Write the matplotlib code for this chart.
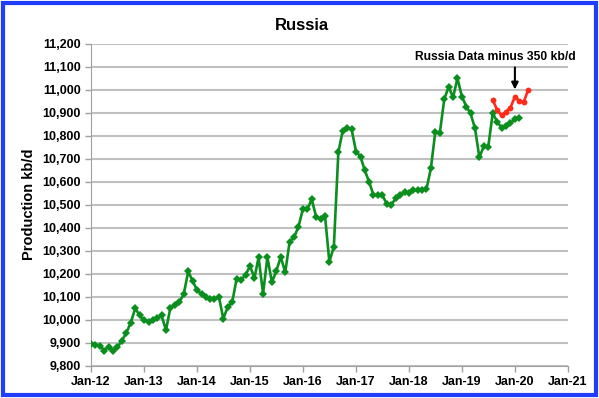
import matplotlib
matplotlib.use("Agg")
import matplotlib.pyplot as plt
import matplotlib.dates as mdates
import matplotlib.patches as mpatches
import pandas as pd

plt.rcParams['font.family'] = ['Liberation Sans', 'DejaVu Sans']

green_start = "2012-01-01"
green_values = [
    9892, 9890, 9886, 9865, 9882, 9865, 9880, 9908, 9943, 9986, 10049, 10018,
    9996, 9991, 9998, 10005, 10018, 9954, 10050, 10063, 10077, 10109, 10209, 10168,
    10128, 10110, 10100, 10087, 10087, 10097, 10004, 10055, 10077, 10178, 10172, 10194,
    10232, 10181, 10270, 10113, 10271, 10162, 10210, 10272, 10205, 10338, 10358, 10403,
    10481, 10480, 10523, 10447, 10437, 10452, 10250, 10317, 10727, 10821, 10831, 10828,
    10730, 10708, 10650, 10599, 10541, 10541, 10541, 10502, 10498, 10527, 10541, 10553,
    10549, 10561, 10562, 10563, 10566, 10658, 10814, 10809, 10957, 11012, 10966, 11049,
    10969, 10925, 10896, 10831, 10705, 10754, 10749, 10897, 10860, 10834, 10843, 10855,
    10870, 10878,
]
red_start = "2019-08-01"
red_values = [10954, 10911, 10887, 10904, 10921, 10968, 10950, 10944, 10998]

tick_years = list(range(2012, 2022))
y_ticks = list(range(9800, 11201, 100))
title = "Russia"
y_label = "Production kb/d"
note = "Russia Data minus 350 kb/d"

green_dates = pd.date_range(green_start, periods=len(green_values), freq="MS")
red_dates = pd.date_range(red_start, periods=len(red_values), freq="MS")

fig = plt.figure(figsize=(5.99, 3.98), dpi=100)
ax = fig.add_axes([91/599, 1-365.5/398, (568-91)/599, (365.5-43.5)/398])

ax.plot(green_dates, green_values, color="#0a8f1e", lw=1.9, marker="D",
        markersize=4.2, markeredgewidth=0, zorder=3)
ax.plot(red_dates, red_values, color="#ff2a1a", lw=1.9, marker="o",
        markersize=4.2, markeredgewidth=0, zorder=3)

ax.set_ylim(9800, 11200)
ax.set_yticks(y_ticks)
ax.set_yticklabels([f"{v:,}" for v in y_ticks])
ax.set_xlim(pd.Timestamp(f"{tick_years[0]}-01-01"), pd.Timestamp(f"{tick_years[-1]}-01-01"))
ax.set_xticks([pd.Timestamp(f"{y}-01-01") for y in tick_years])
ax.xaxis.set_major_formatter(mdates.DateFormatter("Jan-%y"))

ax.grid(axis="y", color="#c0c0c0", lw=1.5)
ax.set_axisbelow(True)
for s in ["top", "right"]:
    ax.spines[s].set_visible(False)
ax.spines["left"].set_color("#a0a0a0")
ax.spines["bottom"].set_color("#a0a0a0")
ax.tick_params(axis="both", colors="#a0a0a0", length=4, width=1,
               labelcolor="black", labelsize=9)
for lbl in ax.get_xticklabels() + ax.get_yticklabels():
    lbl.set_fontweight("bold")

ax.set_ylabel(y_label, fontsize=10.5, fontweight="bold", labelpad=4)
fig.text(302/599, 1-25/398, title, ha="center", va="center",
         fontsize=12, fontweight="bold")

arrow_x = red_dates[5]
ax.annotate("", xy=(arrow_x, 10988), xytext=(arrow_x, 11108),
            arrowprops=dict(arrowstyle="-|>", color="black", lw=1.5,
                            mutation_scale=10))
ax.text(pd.Timestamp("2019-08-20"), 11143, note, ha="center", va="center",
        fontsize=8.7, fontweight="bold")

border = mpatches.Rectangle((3/599, 3/398), 593/599, 392/398, transform=fig.transFigure,
                            fill=False, edgecolor="#1f3cff", lw=3)
fig.patches.append(border)

fig.savefig("out.png", dpi=100)
